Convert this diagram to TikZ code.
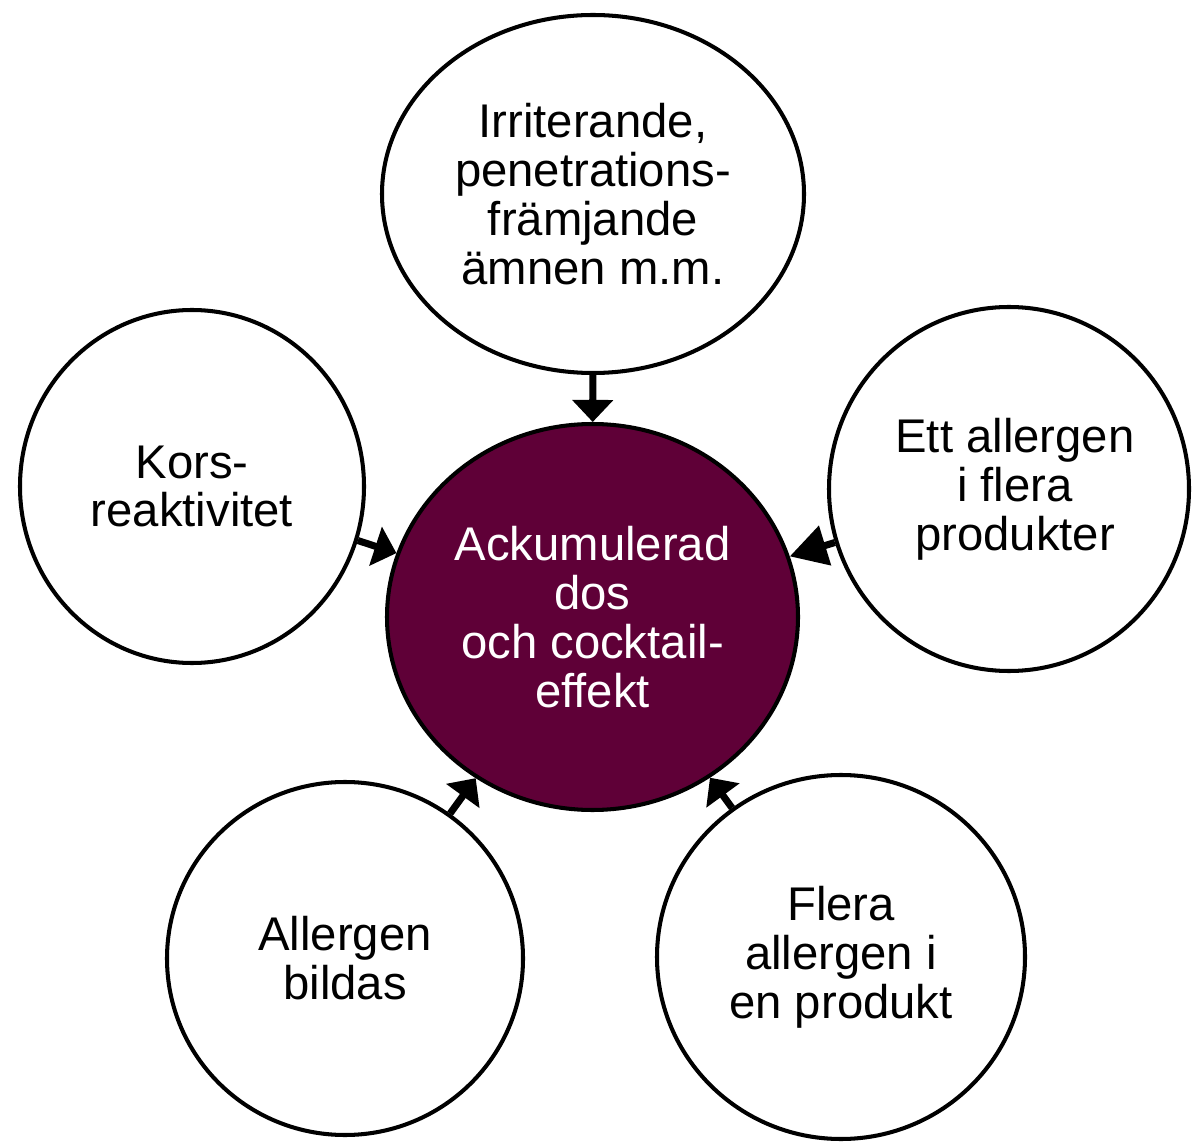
\documentclass[tikz,border=0pt]{standalone}
\usepackage{fontspec}
\setmainfont{Liberation Sans}
\usetikzlibrary{arrows.meta,shapes.geometric}
\definecolor{wine}{HTML}{5F0037}
\definecolor{ink}{HTML}{000000}

\begin{document}
\begin{tikzpicture}[
  bubble/.style={ellipse,draw=ink,line width=2.3pt,fill=white,inner sep=0pt,align=center,
    font=\fontsize{26.9}{27.8}\selectfont},
  core/.style={bubble,fill=wine,text=white},
  feed/.style={ink,line width=4pt,-{Triangle[length=0.44cm,width=0.8cm]}},
  longfeed/.style={feed,-{Triangle[length=0.74cm,width=0.8cm]}}]
\useasboundingbox (0,0) rectangle (23.84,22.82);
\node[core,minimum width=8.22cm,minimum height=7.72cm] (acc) at (11.85,10.48){Ackumulerad\\dos\\och cocktail-\\effekt};
\node[bubble,minimum width=8.44cm,minimum height=7.16cm] (irr) at (11.86,18.94){Irriterande,\\penetrations-\\främjande\\ämnen m.m.};
\node[bubble,minimum width=6.88cm,minimum height=7.06cm] (kors) at (3.84,13.09){Kors-\\reaktivitet};
\node[bubble,minimum width=7.20cm,minimum height=7.28cm] (ett) at (20.18,13.04){\hspace*{0.24cm}Ett allergen\\\hspace*{0.24cm}i flera\\\hspace*{0.24cm}produkter};
\node[bubble,minimum width=7.12cm,minimum height=7.06cm] (bild) at (6.90,3.65){Allergen\\bildas};
\node[bubble,minimum width=7.36cm,minimum height=7.28cm] (flera) at (16.82,3.68){Flera\\allergen i\\en produkt};
\draw[feed] (irr) -- (acc);
\draw[feed] (kors) -- (acc);
\draw[longfeed] (ett) -- (acc);
\draw[feed] (bild) -- (acc);
\draw[feed] (flera) -- (acc);
\end{tikzpicture}
\end{document}
